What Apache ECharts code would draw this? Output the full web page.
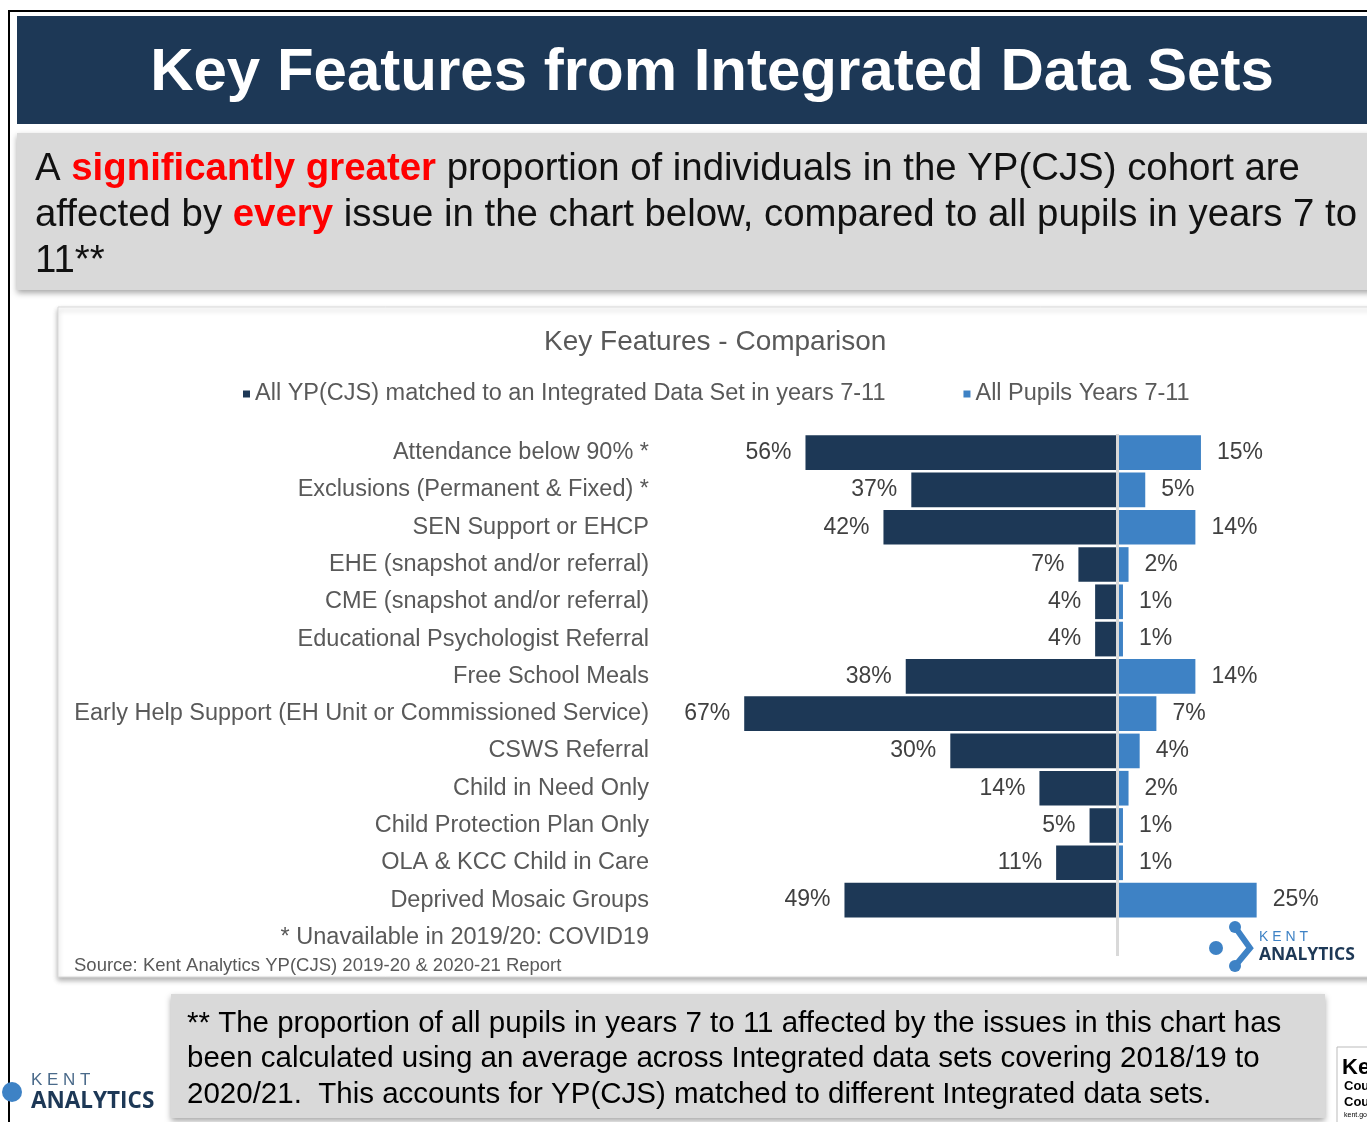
<!DOCTYPE html>
<html>
<head>
<meta charset="utf-8">
<script src="https://cdn.jsdelivr.net/npm/echarts@6/dist/echarts.min.js"></script>
<style>
  html, body { margin: 0; padding: 0; background: #fff; }
  #chart { width: 1367px; height: 1122px; }
</style>
</head>
<body>
<div id="chart"></div>
<script>
// categories top to bottom (last row is the footnote that sits in the axis)
var categories = [
  'Attendance below 90% *',
  'Exclusions (Permanent & Fixed) *',
  'SEN Support or EHCP',
  'EHE (snapshot and/or referral)',
  'CME (snapshot and/or referral)',
  'Educational Psychologist Referral',
  'Free School Meals',
  'Early Help Support (EH Unit or Commissioned Service)',
  'CSWS Referral',
  'Child in Need Only',
  'Child Protection Plan Only',
  'OLA & KCC Child in Care',
  'Deprived Mosaic Groups',
  '* Unavailable in 2019/20: COVID19'
]
var ypData = [56, 37, 42, 7, 4, 4, 38, 67, 30, 14, 5, 11, 49, null]
var pupilsData = [15, 5, 14, 2, 1, 1, 14, 7, 4, 2, 1, 1, 25, null]
var seriesNames = ['All YP(CJS) matched to an Integrated Data Set in years 7-11', 'All Pupils Years 7-11']

var navy = '#1d3856'
var blue = '#3e82c5'
var font = 'Liberation Sans, Arial, sans-serif'

var chart = echarts.init(document.getElementById('chart'))
chart.setOption({
  backgroundColor: '#fff',
  animation: false,
  textStyle: { fontFamily: font },
  title: {
    text: 'Key Features - Comparison',
    left: 539,
    top: 323,
    textStyle: { fontSize: 28, fontWeight: 'normal', color: '#595959', fontFamily: font }
  },
  legend: {
    data: seriesNames,
    left: 238,
    top: 377,
    icon: 'rect',
    itemWidth: 7,
    itemHeight: 7,
    itemGap: 78,
    textStyle: { fontSize: 23.5, color: '#595959', fontFamily: font }
  },
  grid: {
    left: 727.5,
    width: 612.7,
    top: 434,
    height: 522
  },
  xAxis: {
    type: 'value',
    min: -70,
    max: 40,
    show: false
  },
  yAxis: {
    type: 'category',
    inverse: true,
    data: categories,
    axisLine: { show: false, onZero: false },
    axisTick: { show: false },
    axisLabel: { margin: 78.5, fontSize: 23.5, color: '#595959', fontFamily: font }
  },
  series: [
    {
      name: seriesNames[0],
      type: 'bar',
      stack: 'one',
      barCategoryGap: '7%',
      itemStyle: { color: navy },
      label: {
        show: true,
        position: 'left',
        distance: 14,
        fontSize: 23,
        color: '#404040',
        fontFamily: font,
        formatter: function (p) { return Math.abs(p.value) + '%' }
      },
      data: ypData.map(function (v) { return v == null ? null : -v })
    },
    {
      name: seriesNames[1],
      type: 'bar',
      stack: 'one',
      barCategoryGap: '7%',
      itemStyle: { color: blue },
      label: {
        show: true,
        position: 'right',
        distance: 16,
        fontSize: 23,
        color: '#404040',
        fontFamily: font,
        formatter: '{c}%'
      },
      markLine: {
        silent: true,
        symbol: 'none',
        label: { show: false },
        lineStyle: { color: '#d9d9d9', width: 3, type: 'solid' },
        data: [{ xAxis: 0 }]
      },
      data: pupilsData
    }
  ],
  graphic: [
    // slide frame
    { type: 'rect', z: -10, shape: { x: 9, y: 11, width: 1400, height: 1150 },
      style: { fill: 'none', stroke: '#000', lineWidth: 2 } },
    // banner
    { type: 'rect', z: -9, shape: { x: 17, y: 16, width: 1360, height: 108 }, style: { fill: navy } },
    { type: 'text', z: -8, x: 712, y: 73,
      style: { text: 'Key Features from Integrated Data Sets', fill: '#fff',
        font: 'bold 60px ' + font, textAlign: 'center', textVerticalAlign: 'middle' } },
    // grey statement box
    { type: 'rect', z: -9, shape: { x: 17, y: 133, width: 1360, height: 157 },
      style: { fill: '#d9d9d9', shadowBlur: 6, shadowOffsetY: 3, shadowColor: 'rgba(0,0,0,0.35)' } },
    { type: 'text', z: -8, x: 35, y: 147, scaleX: 1.01,
      style: {
        text: '{n|A }{r|significantly greater}{n| proportion of individuals in the YP(CJS) cohort are}\n' +
              '{n|affected by }{r|every}{n| issue in the chart below, compared to all pupils in years 7 to}\n' +
              '{n|11**}',
        rich: {
          n: { fontSize: 38, fontFamily: font, fill: '#111', lineHeight: 46 },
          r: { fontSize: 38, fontFamily: font, fontWeight: 'bold', fill: '#ff0000', lineHeight: 46 }
        }
      } },
    // chart box
    { type: 'rect', z: -9, shape: { x: 58, y: 307, width: 1320, height: 670 },
      style: { fill: '#fff', stroke: '#d9d9d9', lineWidth: 1, shadowBlur: 5, shadowOffsetY: 3, shadowColor: 'rgba(0,0,0,0.3)' } },
    { type: 'text', z: 5, x: 74, y: 966,
      style: { text: 'Source: Kent Analytics YP(CJS) 2019-20 & 2020-21 Report', fill: '#595959',
        font: '18.5px ' + font, textVerticalAlign: 'middle' } },
    // logo in chart
    { type: 'polyline', z: 5, shape: { points: [[1235, 927], [1250, 948], [1235, 966]] },
      style: { stroke: blue, lineWidth: 6, fill: 'none' } },
    { type: 'circle', z: 5, shape: { cx: 1216, cy: 948, r: 7 }, style: { fill: blue } },
    { type: 'circle', z: 5, shape: { cx: 1235, cy: 927, r: 6 }, style: { fill: blue } },
    { type: 'circle', z: 5, shape: { cx: 1235, cy: 966, r: 6 }, style: { fill: blue } },
    { type: 'text', z: 5, x: 1259, y: 937,
      style: { text: 'K E N T', fill: blue, font: '14px ' + font, textVerticalAlign: 'middle' } },
    { type: 'text', z: 5, x: 1259, y: 955,
      style: { text: 'ANALYTICS', fill: navy, font: 'bold 17.5px "Open Sans", ' + font, textVerticalAlign: 'middle' } },
    // footnote box
    { type: 'rect', z: -9, shape: { x: 171, y: 994, width: 1154, height: 124 },
      style: { fill: '#d9d9d9', shadowBlur: 6, shadowOffsetY: 3, shadowColor: 'rgba(0,0,0,0.35)' } },
    { type: 'text', z: -8, x: 187, y: 1006,
      style: {
        text: '** The proportion of all pupils in years 7 to 11 affected by the issues in this chart has\n' +
              'been calculated using an average across Integrated data sets covering 2018/19 to\n' +
              '2020/21.  This accounts for YP(CJS) matched to different Integrated data sets.',
        fill: '#000', font: '29.5px ' + font, lineHeight: 35.5
      } },
    // bottom-left logo
    { type: 'circle', z: 5, shape: { cx: 12, cy: 1092, r: 10 }, style: { fill: blue } },
    { type: 'text', z: 5, x: 31, y: 1080,
      style: { text: 'K E N T', fill: '#4a6a8a', font: '17px ' + font, textVerticalAlign: 'middle' } },
    { type: 'text', z: 5, x: 31, y: 1102,
      style: { text: 'ANALYTICS', fill: navy, font: 'bold 22.5px "Open Sans", ' + font, textVerticalAlign: 'middle' } },
    // bottom-right council logo (cut off)
    { type: 'rect', z: 5, shape: { x: 1337, y: 1047, width: 40, height: 80 },
      style: { fill: '#fff', stroke: '#bbb', lineWidth: 1 } },
    { type: 'text', z: 6, x: 1342, y: 1068,
      style: { text: 'Ke', fill: '#000', font: 'bold 22px ' + font, textVerticalAlign: 'middle' } },
    { type: 'text', z: 6, x: 1344, y: 1086,
      style: { text: 'Cou', fill: '#000', font: 'bold 13px ' + font, textVerticalAlign: 'middle' } },
    { type: 'text', z: 6, x: 1344, y: 1102,
      style: { text: 'Cou', fill: '#000', font: 'bold 13px ' + font, textVerticalAlign: 'middle' } },
    { type: 'text', z: 6, x: 1344, y: 1115,
      style: { text: 'kent.gov.uk', fill: '#000', font: '7px ' + font, textVerticalAlign: 'middle' } }
  ]
})
</script>
</body>
</html>
